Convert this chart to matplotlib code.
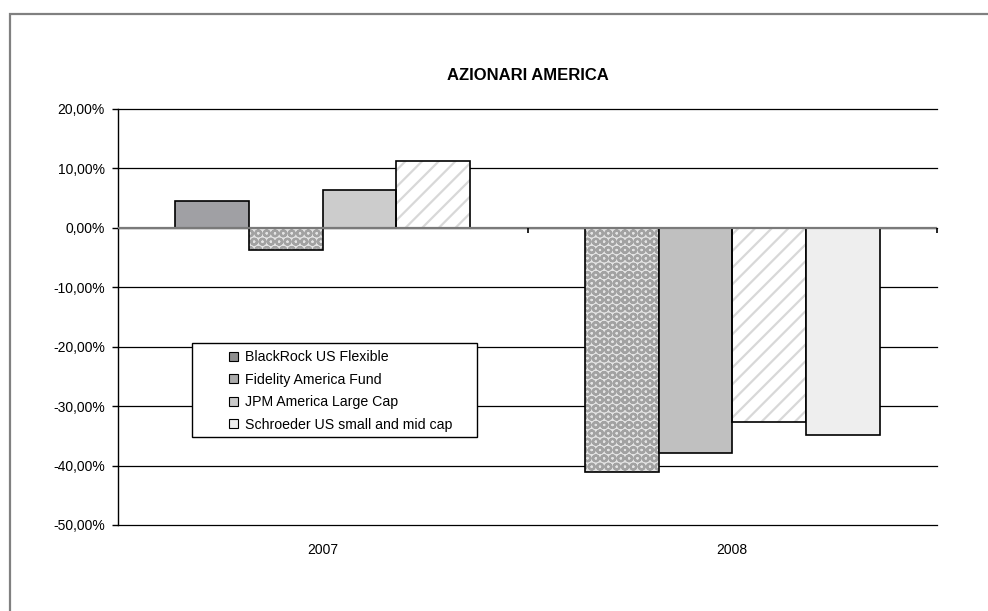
import matplotlib
matplotlib.use("Agg")
import matplotlib.pyplot as plt
from matplotlib.patches import Patch, Rectangle
from matplotlib.ticker import FuncFormatter, MultipleLocator

plt.rcParams['font.family'] = ['Liberation Sans', 'DejaVu Sans']
plt.rcParams['hatch.linewidth'] = 1.6

years = ["2007", "2008"]
series = ["BlackRock US Flexible", "Fidelity America Fund",
          "JPM America Large Cap", "Schroeder US small and mid cap"]
blackrock = [4.5, -41.1]
fidelity = [-3.7, -37.9]
jpm = [6.35, -32.6]
schroeder = [11.3, -34.8]
values = [blackrock, fidelity, jpm, schroeder]

title = "AZIONARI AMERICA"

# per-bar appearance (series x year): (facecolor, hatch, hatchcolor)
DOTS = ("#e4e4e4", "OO", "#a2a2a2")
STRIPES = ("#ffffff", "//", "#d8d8d8")
bar_styles = [
    [("#a0a0a4", None, None), DOTS],
    [DOTS, ("#c0c0c0", None, None)],
    [("#cccccc", None, None), STRIPES],
    [STRIPES, ("#eeeeee", None, None)],
]
legend_colors = ["#8e8e8e", "#ababab", "#cacaca", "#ededed"]

W, H = 988, 611
fig = plt.figure(figsize=(W / 100, H / 100), dpi=100)

# outer chart border
fig.patches.append(Rectangle((10 / W, -0.1), 1.2, 1 - 14 / H + 0.1,
                             transform=fig.transFigure, fill=False,
                             edgecolor="#808080", linewidth=1.6, zorder=0))

L, R, T, B = 118, 937, 109, 525
ax = fig.add_axes([L / W, 1 - B / H, (R - L) / W, (B - T) / H])

ax.set_ylim(-50, 20)
ax.set_xlim(-0.5, 1.5)
ax.yaxis.set_major_locator(MultipleLocator(10))
ax.yaxis.set_major_formatter(FuncFormatter(lambda v, p: f"{v:.2f}%".replace(".", ",")))
ax.grid(axis="y", color="black", linewidth=0.9, zorder=0)
ax.set_axisbelow(True)
for gl in ax.get_ygridlines():
    gl.set_clip_on(False)

for s in ["top", "right", "bottom"]:
    ax.spines[s].set_visible(False)
ax.spines["left"].set_linewidth(1.0)
ax.tick_params(axis="y", direction="out", length=4, width=1.0, labelsize=10, pad=5.5)
ax.set_xticks(range(len(years)))
ax.set_xticklabels(years)
ax.tick_params(axis="x", length=0, labelsize=10, pad=13)

width = 0.18
n = len(series)
for i, vals in enumerate(values):
    for j, v in enumerate(vals):
        x = j + (i - (n - 1) / 2) * width
        fc, hatch, hc = bar_styles[i][j]
        if hatch:
            ax.bar(x, v, width, color=fc, edgecolor=hc, hatch=hatch,
                   linewidth=0, zorder=2)
            ax.bar(x, v, width, fill=False, edgecolor="black", linewidth=1.2, zorder=3)
        else:
            ax.bar(x, v, width, color=fc, edgecolor="black", linewidth=1.2, zorder=3)

# category axis at zero
ax.axhline(0, color="#7a7a7a", linewidth=1.6, zorder=4)
ax.vlines([0.5, 1.5], -0.85, 0, color="black", linewidth=1.2, zorder=4, clip_on=False)

ax.set_title(title, fontsize=12, fontweight="bold", pad=21)

# legend
lx0, ly0, lx1, ly1 = 192, 343, 477, 437
fig.patches.append(Rectangle((lx0 / W, 1 - ly1 / H), (lx1 - lx0) / W, (ly1 - ly0) / H,
                             transform=fig.transFigure, facecolor="white",
                             edgecolor="black", linewidth=1.0, zorder=5))
handles = [Patch(facecolor=c, edgecolor="black", linewidth=0.8) for c in legend_colors]
leg = fig.legend(handles, series, loc="upper left", bbox_to_anchor=(218 / W, 1 - 339 / H),
                 frameon=False, fontsize=10.2, handlelength=0.6, handleheight=0.6,
                 handletextpad=0.5, labelspacing=0.6, borderpad=0.3)
leg.set_zorder(6)

fig.savefig("out.png", dpi=100)
